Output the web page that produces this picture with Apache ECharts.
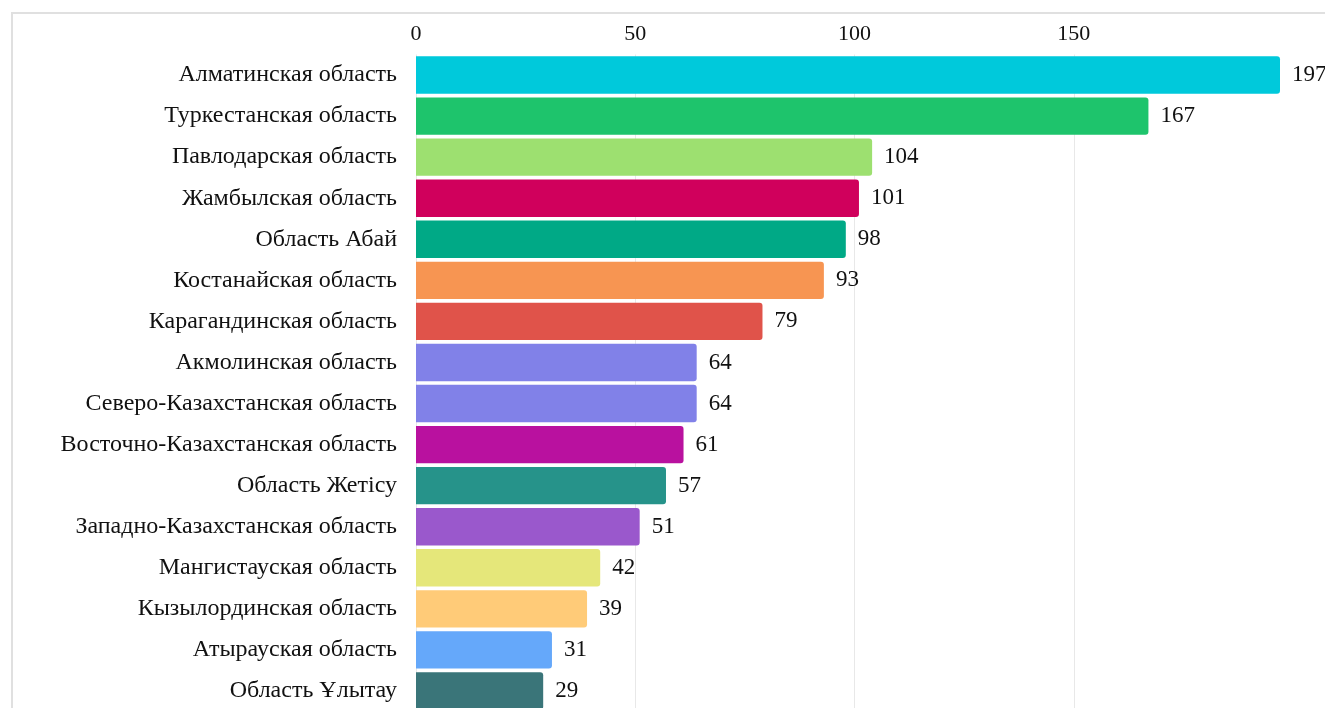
<!DOCTYPE html>
<html>
<head>
<meta charset="utf-8">
<script src="https://cdn.jsdelivr.net/npm/echarts@6/dist/echarts.min.js"></script>
<style>
html,body{margin:0;padding:0;width:1325px;height:708px;overflow:hidden;background:#fff;}
#frame{position:absolute;left:11px;top:12px;width:1400px;height:800px;border:2px solid #e0e0e0;box-sizing:border-box;}
#chart{position:absolute;left:0;top:0;width:1325px;height:720px;}
</style>
</head>
<body>
<div id="frame"></div>
<div id="chart"></div>
<script>
const categories = [
  "Алматинская область",
  "Туркестанская область",
  "Павлодарская область",
  "Жамбылская область",
  "Область Абай",
  "Костанайская область",
  "Карагандинская область",
  "Акмолинская область",
  "Северо-Казахстанская область",
  "Восточно-Казахстанская область",
  "Область Жетісу",
  "Западно-Казахстанская область",
  "Мангистауская область",
  "Кызылординская область",
  "Атырауская область",
  "Область Ұлытау"
];
const values = [197, 167, 104, 101, 98, 93, 79, 64, 64, 61, 57, 51, 42, 39, 31, 29];
const colors = [
  "#00C9DB", "#1EC46C", "#9DE070", "#D0005C", "#00A986", "#F79552",
  "#E0534A", "#8181E8", "#8181E8", "#B9119F", "#26938A", "#9A58CC",
  "#E5E77A", "#FFCB78", "#65A8FA", "#3A7579"
];
const tickInterval = 50;

const chart = echarts.init(document.getElementById('chart'), null, {renderer: 'canvas'});
const font = '"Liberation Serif", "Times New Roman", serif';
chart.setOption({
  backgroundColor: 'transparent',
  animation: false,
  grid: {left: 416, right: 45, top: 54.5, bottom: 8.5, containLabel: false},
  xAxis: {
    type: 'value',
    position: 'top',
    min: 0,
    max: 'dataMax',
    interval: tickInterval,
    axisLine: {show: false},
    axisTick: {show: false},
    axisLabel: {fontFamily: font, fontSize: 22, color: '#111', margin: 9, showMaxLabel: false},
    splitLine: {show: true, showMaxLine: false, lineStyle: {color: '#e8e8e8', width: 1}}
  },
  yAxis: {
    type: 'category',
    inverse: true,
    data: categories,
    axisLine: {show: false},
    axisTick: {show: false},
    axisLabel: {fontFamily: font, fontSize: 24, color: '#111', margin: 19, padding: [4, 0, 0, 0]}
  },
  series: [{
    type: 'bar',
    barCategoryGap: '9%',
    data: values.map((v, i) => ({value: v, itemStyle: {color: colors[i]}})),
    itemStyle: {borderRadius: [0, 3, 3, 0]},
    label: {
      show: true,
      position: 'right',
      distance: 12,
      fontFamily: font,
      fontSize: 23,
      color: '#111',
      padding: [4, 0, 0, 0]
    }
  }]
});
</script>
</body>
</html>
